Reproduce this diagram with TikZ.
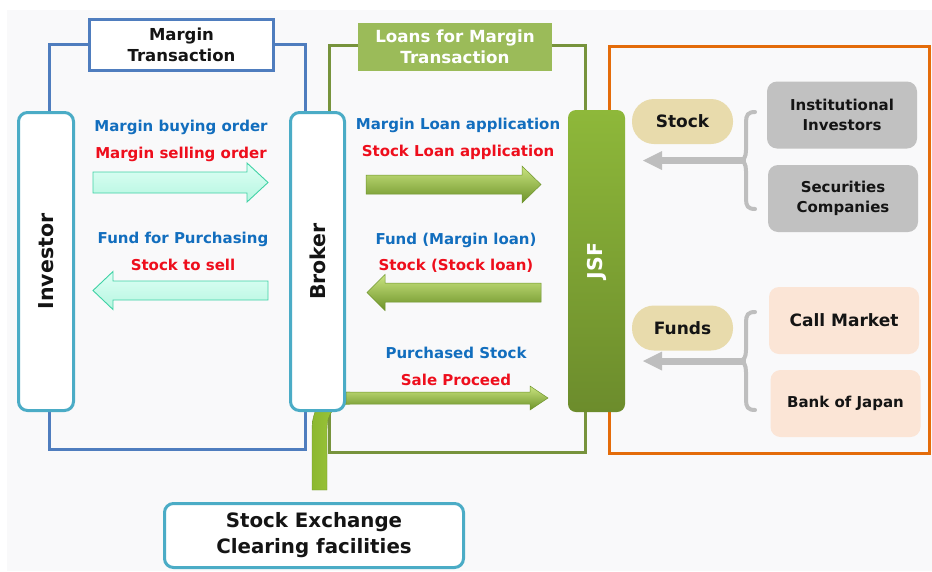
\documentclass[tikz,border=0pt]{standalone}
\usepackage{fontspec}
\setmainfont{DejaVu Sans}
\definecolor{bg}{RGB}{249,249,250}
\definecolor{frameblue}{RGB}{79,125,190}
\definecolor{framegreen}{RGB}{119,147,60}
\definecolor{frameorange}{RGB}{228,108,10}
\definecolor{tealbox}{RGB}{75,172,198}
\definecolor{titlegreen}{RGB}{155,187,89}
\definecolor{txtblue}{RGB}{18,110,190}
\definecolor{txtred}{RGB}{238,14,28}
\definecolor{greybox}{RGB}{193,193,193}
\definecolor{peach}{RGB}{251,229,214}
\definecolor{pilltan}{RGB}{232,219,172}
\definecolor{bracegrey}{RGB}{190,190,190}
\definecolor{minttop}{RGB}{222,255,245}
\definecolor{mintbot}{RGB}{182,246,224}
\definecolor{mintline}{RGB}{64,210,165}
\definecolor{gatop}{RGB}{202,228,128}
\definecolor{gamid}{RGB}{158,200,72}
\definecolor{gabot}{RGB}{108,146,40}
\definecolor{galine}{RGB}{112,150,46}
\definecolor{pipeleft}{RGB}{140,184,48}
\definecolor{pipemid}{RGB}{196,228,102}
\definecolor{piperight}{RGB}{164,204,62}
\definecolor{jsftop}{RGB}{142,184,58}
\definecolor{jsfbot}{RGB}{108,140,44}
\definecolor{txtdark}{RGB}{20,20,20}
\tikzset{
  framepath/.style={line width=3pt},
  vbox/.style={draw=tealbox, line width=3pt, fill=white, rounded corners=9pt},
  vtext/.style={rotate=90, font=\fontsize{20.5}{24}\selectfont\bfseries, text=txtdark},
  flowlbl/.style={font=\fontsize{15}{18}\selectfont\bfseries},
  mintarrow/.style={draw=mintline, line width=0.9pt, top color=minttop, bottom color=mintbot},
  greenarrow/.style={draw=galine, line width=0.5pt, top color=gatop, middle color=gamid, bottom color=gabot},
  sidebox/.style={rounded corners=10pt, minimum width=150pt, minimum height=67pt, align=center, text=txtdark},
  pill/.style={fill=pilltan, rounded corners=22pt, minimum width=101pt, minimum height=45pt, font=\fontsize{17}{20}\selectfont\bfseries, text=txtdark},
  bracestyle/.style={draw=bracegrey, line width=4pt, line cap=round},
}
\begin{document}
\begin{tikzpicture}[x=1pt,y=-1pt, every node/.style={inner sep=0pt, outer sep=0pt}]
\useasboundingbox (0,0) rectangle (932,571);
\fill[bg] (7,10) rectangle (932,571);

% frames
\draw[framepath, frameblue] (49,44) rectangle (305,449.5);
\draw[framepath, framegreen] (329,45) rectangle (585,452);
\draw[framepath, frameorange] (609,46.5) rectangle (929.5,453);

% bent green arrow from stock exchange (vertical part with bend)
\path[draw=galine, line width=0.4pt, left color=pipeleft, middle color=pipemid, right color=piperight]
  (312,490) -- (312,430) .. controls (312,405) and (325,392) .. (350,392) -- (350,404)
  .. controls (335,404) and (327,412) .. (327,430) -- (327,490) -- cycle;
% horizontal part
\path[greenarrow] (346,392) -- (530,392) -- (530,386) -- (548,398) -- (530,410) -- (530,404) -- (346,404) -- cycle;

% title boxes
\node[draw=frameblue, line width=3pt, fill=white, minimum width=184pt, minimum height=51pt,
      align=center, font=\fontsize{16.5}{21}\selectfont\bfseries, text=txtdark] (mt) at (181.5,45) {Margin\\Transaction};
\node[fill=titlegreen, minimum width=194pt, minimum height=48pt, align=center,
      font=\fontsize{16.7}{21}\selectfont\bfseries, text=white] (lt) at (455,47) {Loans for Margin\\Transaction};

% vertical boxes
\node[vbox, minimum width=55pt, minimum height=298pt] (inv) at (46,261.5) {};
\node[vtext] (invt) at (inv.center) {Investor};
\node[vbox, minimum width=54pt, minimum height=298pt] (brk) at (317.5,261.5) {};
\node[vtext] (brkt) at (brk.center) {Broker};
\node[rounded corners=8pt, top color=jsftop, bottom color=jsfbot, minimum width=57pt, minimum height=302pt] (jsf) at (596.5,261) {};
\node[vtext, text=white] (jsft) at (jsf.center) {JSF};

% stock exchange
\node[vbox, minimum width=299pt, minimum height=64pt, align=center,
      font=\fontsize{19.8}{26}\selectfont\bfseries, text=txtdark] (se) at (314,535.5) {Stock Exchange\\Clearing facilities};

% mint arrows
\path[mintarrow] (93,172) -- (247,172) -- (247,163) -- (268,182.5) -- (247,202) -- (247,193) -- (93,193) -- cycle;
\path[mintarrow] (268,281) -- (113,281) -- (113,271.5) -- (93,290.5) -- (113,309.5) -- (113,300) -- (268,300) -- cycle;

% green arrows
\path[greenarrow] (366,175) -- (522,175) -- (522,166) -- (541,184.5) -- (522,203) -- (522,194) -- (366,194) -- cycle;
\path[greenarrow] (541,283) -- (385,283) -- (385,274.5) -- (367,292.5) -- (385,310.5) -- (385,302) -- (541,302) -- cycle;

% flow labels
\node[flowlbl, text=txtblue] (l1) at (181,127) {Margin buying order};
\node[flowlbl, text=txtred] (l2) at (181,154) {Margin selling order};
\node[flowlbl, text=txtblue] (l3) at (183,239) {Fund for Purchasing};
\node[flowlbl, text=txtred] (l4) at (183,265) {Stock to sell};
\node[flowlbl, text=txtblue] (l5) at (458,125) {Margin Loan application};
\node[flowlbl, text=txtred] (l6) at (458,152) {Stock Loan application};
\node[flowlbl, text=txtblue] (l7) at (456,240) {Fund (Margin loan)};
\node[flowlbl, text=txtred] (l8) at (456,266) {Stock (Stock loan)};
\node[flowlbl, text=txtblue] (l9) at (456,353) {Purchased Stock};
\node[flowlbl, text=txtred] (l10) at (456,380) {Sale Proceed};

% right side
\node[pill] (stk) at (682.5,121.5) {Stock};
\node[pill] (fnd) at (682.5,328) {Funds};
\node[sidebox, fill=greybox, font=\fontsize{15}{20}\selectfont\bfseries] (ii) at (842,115) {Institutional\\Investors};
\node[sidebox, fill=greybox, font=\fontsize{15}{20}\selectfont\bfseries] (sc) at (843,198.5) {Securities\\Companies};
\node[sidebox, fill=peach, font=\fontsize{17}{20}\selectfont\bfseries] (cm) at (844,320.5) {Call Market};
\node[sidebox, fill=peach, font=\fontsize{15}{20}\selectfont\bfseries] (boj) at (845.5,403.5) {Bank of Japan};

% braces with arrows
\coordinate (b1) at (746,160.5);
\coordinate (b1tip) at (643,160.5);
\draw[bracestyle] (755,112) .. controls (748,112) and (746,115) .. (746,122) -- (746,150)
  .. controls (746,157) and (744,160.5) .. (739,160.5);
\draw[bracestyle] (739,160.5) .. controls (744,160.5) and (746,164) .. (746,171) -- (746,199)
  .. controls (746,206) and (748,209) .. (755,209);
\draw[draw=bracegrey, line width=7pt] (b1) -- (661,160.5);
\fill[bracegrey] (662,151) -- (b1tip) -- (662,170) -- cycle;

\coordinate (b2) at (746,361);
\coordinate (b2tip) at (643,361);
\draw[bracestyle] (755,312) .. controls (748,312) and (746,315) .. (746,322) -- (746,350)
  .. controls (746,357) and (744,361) .. (739,361);
\draw[bracestyle] (739,361) .. controls (744,361) and (746,365) .. (746,372) -- (746,400)
  .. controls (746,407) and (748,410) .. (755,410);
\draw[draw=bracegrey, line width=7pt] (b2) -- (661,361);
\fill[bracegrey] (662,351.5) -- (b2tip) -- (662,370.5) -- cycle;
\end{tikzpicture}
\end{document}
